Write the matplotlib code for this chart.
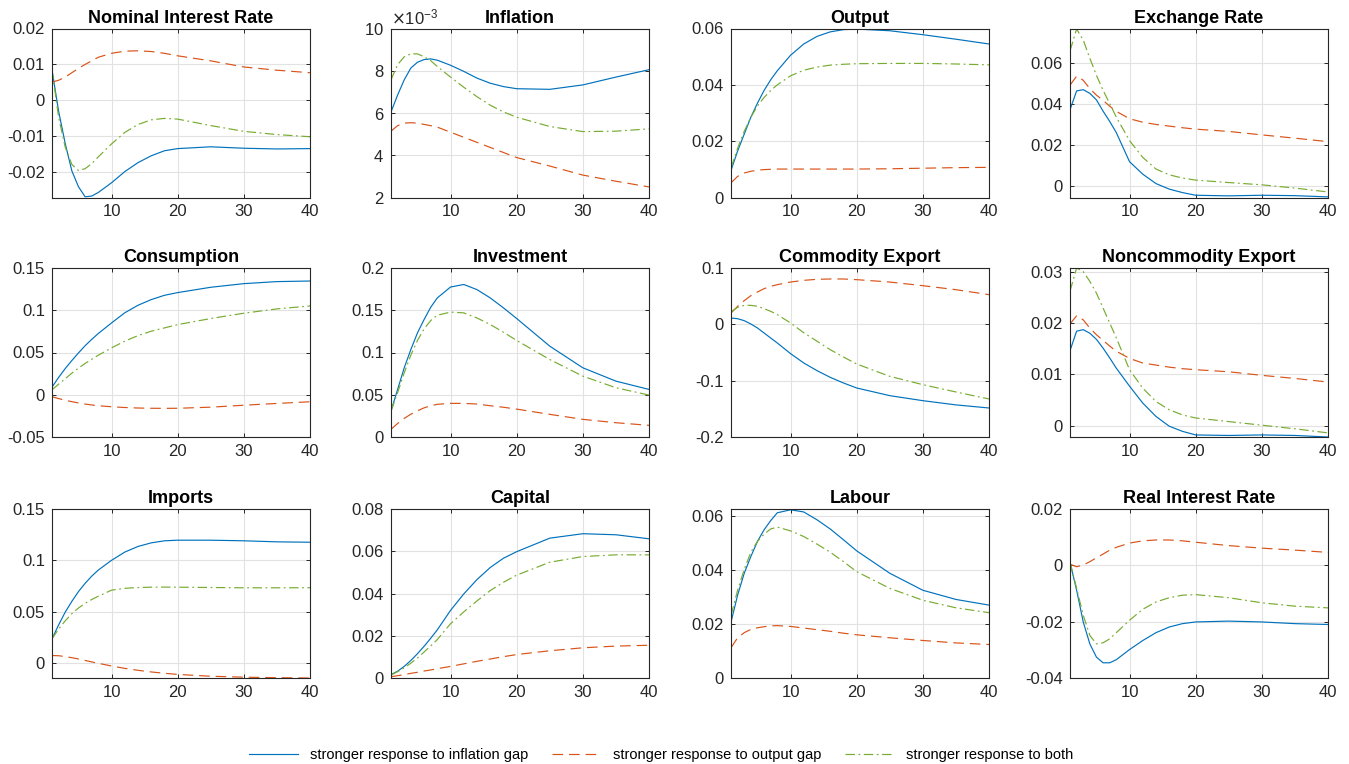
# librerias
import numpy as np
import matplotlib.pyplot as plt
from matplotlib.ticker import FuncFormatter, ScalarFormatter

plt.rcParams['font.family'] = ['Liberation Sans', 'DejaVu Sans']
plt.rcParams['axes.unicode_minus'] = False

# Periodos
periodos = [1, 2, 3, 4, 5, 6, 7, 8, 10, 12, 14, 16, 18, 20, 25, 30, 35, 40]

titulos = ['Nominal Interest Rate', 'Inflation', 'Output', 'Exchange Rate',
           'Consumption', 'Investment', 'Commodity Export', 'Noncommodity Export',
           'Imports', 'Capital', 'Labour', 'Real Interest Rate']

etiquetas = ['stronger response to inflation gap',
             'stronger response to output gap',
             'stronger response to both']

# Nominal Interest Rate
nom_infl = [0.0085, -0.003, -0.012, -0.0196, -0.024, -0.0268, -0.0266, -0.0256, -0.0229, -0.0198,
            -0.0173, -0.0154, -0.014, -0.0134, -0.0129, -0.0133, -0.0135, -0.0134]
nom_out = [0.0051, 0.0056, 0.0065, 0.0077, 0.0089, 0.01, 0.011, 0.012, 0.0131, 0.0137,
           0.0138, 0.0136, 0.0131, 0.0124, 0.011, 0.0093, 0.0084, 0.0077]
nom_both = [0.0085, -0.0047, -0.013, -0.0178, -0.0195, -0.019, -0.0176, -0.0157, -0.0121, -0.0089,
            -0.0067, -0.0054, -0.005, -0.0052, -0.007, -0.0086, -0.0095, -0.0101]

# Inflation (en unidades de 1e-3)
inf_infl = [6.05, 6.85, 7.57, 8.13, 8.4, 8.53, 8.56, 8.5, 8.26, 7.97,
            7.65, 7.41, 7.25, 7.15, 7.12, 7.33, 7.7, 8.05]
inf_out = [5.14, 5.4, 5.52, 5.54, 5.52, 5.46, 5.4, 5.33, 5.09, 4.85,
           4.61, 4.37, 4.13, 3.89, 3.49, 3.06, 2.77, 2.5]
inf_both = [7.57, 8.29, 8.66, 8.8, 8.8, 8.66, 8.48, 8.2, 7.7, 7.22,
            6.77, 6.37, 6.05, 5.8, 5.36, 5.12, 5.14, 5.25]

# Output
y_infl = [0.0096, 0.0165, 0.0225, 0.0285, 0.0335, 0.038, 0.0418, 0.045, 0.0505, 0.0545,
          0.0572, 0.0588, 0.0596, 0.0598, 0.0592, 0.0578, 0.0562, 0.0545]
y_out = [0.0052, 0.0075, 0.0087, 0.0093, 0.0097, 0.0099, 0.01, 0.0101, 0.0101, 0.0101,
         0.0101, 0.0101, 0.0101, 0.0101, 0.0102, 0.0104, 0.0106, 0.0107]
y_both = [0.0105, 0.0175, 0.0235, 0.0285, 0.0325, 0.0355, 0.038, 0.04, 0.0432, 0.0452,
          0.0463, 0.047, 0.0473, 0.0475, 0.0476, 0.0476, 0.0474, 0.0471]

# Exchange Rate
tc_infl = [0.0372, 0.0464, 0.047, 0.0452, 0.042, 0.0365, 0.0315, 0.026, 0.0118, 0.0057,
           0.0011, -0.0016, -0.0033, -0.0046, -0.0049, -0.0046, -0.0048, -0.0054]
tc_out = [0.0492, 0.0536, 0.0516, 0.0475, 0.0443, 0.0418, 0.0389, 0.0364, 0.0328, 0.0311,
          0.03, 0.0292, 0.0284, 0.0277, 0.0266, 0.0249, 0.0233, 0.0216]
tc_both = [0.066, 0.0766, 0.0713, 0.0623, 0.054, 0.0467, 0.0402, 0.0336, 0.0221, 0.0139,
           0.0082, 0.0054, 0.0038, 0.0028, 0.0016, 0.0005, -0.0011, -0.003]

# Consumption
c_infl = [0.009, 0.0205, 0.031, 0.0405, 0.0495, 0.058, 0.0655, 0.0725, 0.085, 0.097,
          0.1059, 0.1126, 0.1177, 0.1209, 0.1272, 0.1315, 0.1339, 0.1346]
c_out = [-0.0024, -0.0045, -0.0065, -0.0082, -0.0097, -0.011, -0.0121, -0.013, -0.0142, -0.0151,
         -0.0157, -0.016, -0.0161, -0.016, -0.0147, -0.0124, -0.0103, -0.0083]
c_both = [0.0059, 0.0125, 0.019, 0.0255, 0.0315, 0.037, 0.042, 0.0468, 0.0555, 0.0634,
          0.07, 0.0752, 0.0791, 0.083, 0.0902, 0.0965, 0.1016, 0.1051]

# Investment
i_infl = [0.0307, 0.0563, 0.0819, 0.1035, 0.1232, 0.139, 0.1535, 0.1646, 0.1775, 0.1805,
          0.1744, 0.1646, 0.1528, 0.1402, 0.1075, 0.0819, 0.0661, 0.0563]
i_out = [0.0091, 0.016, 0.022, 0.027, 0.031, 0.0345, 0.037, 0.0387, 0.0398, 0.0398,
         0.039, 0.037, 0.0352, 0.033, 0.0268, 0.0209, 0.0169, 0.0138]
i_both = [0.0307, 0.0524, 0.076, 0.0969, 0.1142, 0.128, 0.1378, 0.1441, 0.1478, 0.1469,
          0.1409, 0.1331, 0.124, 0.1142, 0.0917, 0.072, 0.0583, 0.0496]

# Commodity Export
xc_infl = [0.0112, 0.01, 0.0065, 0.0006, -0.0065, -0.0154, -0.0243, -0.0331, -0.052, -0.0686,
           -0.0822, -0.0941, -0.1041, -0.113, -0.1266, -0.1355, -0.143, -0.1485]
xc_out = [0.0201, 0.032, 0.042, 0.0509, 0.0574, 0.0633, 0.0675, 0.0704, 0.0751, 0.0781,
          0.0799, 0.0805, 0.0805, 0.0793, 0.0751, 0.0686, 0.0615, 0.0527]
xc_both = [0.0219, 0.0302, 0.0337, 0.0337, 0.032, 0.0278, 0.0231, 0.0172, 0.0024, -0.015,
           -0.03, -0.045, -0.058, -0.0704, -0.0923, -0.1071, -0.1201, -0.1325]

# Noncommodity Export
xn_infl = [0.0146, 0.0184, 0.0187, 0.018, 0.0168, 0.0151, 0.0132, 0.0112, 0.0077, 0.0044,
           0.0018, -0.0001, -0.0011, -0.0018, -0.0019, -0.0018, -0.0019, -0.0022]
xn_out = [0.0198, 0.0214, 0.0206, 0.019, 0.0177, 0.0166, 0.0155, 0.0145, 0.0131, 0.0122,
          0.0118, 0.0114, 0.0111, 0.0109, 0.0105, 0.0098, 0.0092, 0.0085]
xn_both = [0.0262, 0.0307, 0.03, 0.0281, 0.0258, 0.0229, 0.02, 0.0171, 0.0109, 0.0073,
           0.0047, 0.0031, 0.0021, 0.0015, 0.0008, 0.0001, -0.0006, -0.0014]

# Imports
m_infl = [0.0235, 0.037, 0.0495, 0.06, 0.0695, 0.0775, 0.0845, 0.0905, 0.1, 0.108,
          0.1135, 0.117, 0.119, 0.1196, 0.1196, 0.119, 0.118, 0.1176]
m_out = [0.0072, 0.007, 0.0062, 0.0051, 0.0038, 0.0024, 0.001, -0.0004, -0.003, -0.0053,
         -0.0072, -0.0088, -0.0101, -0.0112, -0.013, -0.0139, -0.0144, -0.0147]
m_both = [0.0235, 0.033, 0.041, 0.048, 0.0535, 0.058, 0.0618, 0.065, 0.0709, 0.0727,
          0.0735, 0.0738, 0.0739, 0.0738, 0.0735, 0.0732, 0.0732, 0.0733]

# Capital
k_infl = [0.0016, 0.0032, 0.0055, 0.0083, 0.0115, 0.015, 0.0188, 0.0228, 0.032, 0.0398,
          0.0466, 0.0523, 0.0567, 0.0598, 0.0662, 0.0683, 0.0678, 0.0659]
k_out = [0.0006, 0.0011, 0.0016, 0.0022, 0.0027, 0.0033, 0.0038, 0.0044, 0.0055, 0.0067,
         0.0079, 0.009, 0.0101, 0.0111, 0.0129, 0.0143, 0.0151, 0.0155]
k_both = [0.0014, 0.003, 0.0048, 0.007, 0.0095, 0.0123, 0.0152, 0.0182, 0.0257, 0.0313,
          0.0365, 0.0414, 0.0453, 0.0487, 0.0548, 0.0575, 0.0583, 0.0583]

# Labour
l_infl = [0.0207, 0.0307, 0.0388, 0.045, 0.0506, 0.0549, 0.0583, 0.0612, 0.0623, 0.0615,
          0.0586, 0.0552, 0.0512, 0.0471, 0.0388, 0.0325, 0.0291, 0.027]
l_out = [0.0112, 0.0149, 0.0168, 0.018, 0.0186, 0.019, 0.0193, 0.0194, 0.0191, 0.0185,
         0.0179, 0.0173, 0.0166, 0.016, 0.0149, 0.0139, 0.013, 0.0124]
l_both = [0.0232, 0.0325, 0.0402, 0.0466, 0.0506, 0.0533, 0.0552, 0.0559, 0.0545, 0.0524,
          0.0496, 0.0466, 0.0431, 0.0394, 0.0332, 0.0288, 0.026, 0.0242]

# Real Interest Rate
r_infl = [0.0011, -0.0088, -0.0201, -0.0279, -0.0326, -0.0346, -0.0346, -0.0335, -0.0299, -0.0267,
          -0.0239, -0.0219, -0.0207, -0.0201, -0.0198, -0.0201, -0.0207, -0.021]
r_out = [0.0004, -0.0005, 0.0001, 0.0013, 0.0027, 0.004, 0.0054, 0.0064, 0.0079, 0.0087,
         0.009, 0.009, 0.0087, 0.0082, 0.007, 0.0061, 0.0054, 0.0046]
r_both = [0.0011, -0.0082, -0.0177, -0.0249, -0.0279, -0.0275, -0.0261, -0.0239, -0.0195, -0.0156,
          -0.013, -0.0115, -0.0106, -0.0104, -0.0115, -0.0133, -0.0145, -0.0151]

series = [
    (nom_infl, nom_out, nom_both),
    (np.array(inf_infl) * 1e-3, np.array(inf_out) * 1e-3, np.array(inf_both) * 1e-3),
    (y_infl, y_out, y_both),
    (tc_infl, tc_out, tc_both),
    (c_infl, c_out, c_both),
    (i_infl, i_out, i_both),
    (xc_infl, xc_out, xc_both),
    (xn_infl, xn_out, xn_both),
    (m_infl, m_out, m_both),
    (k_infl, k_out, k_both),
    (l_infl, l_out, l_both),
    (r_infl, r_out, r_both),
]

limites_y = [(-0.027, 0.02), (0.002, 0.010), (0, 0.06), (-0.0057, 0.0769),
             (-0.05, 0.15), (0, 0.2), (-0.2, 0.1), (-0.0022, 0.0307),
             (-0.0147, 0.15), (0, 0.08), (0, 0.0626), (-0.04, 0.02)]

ticks_y = [[-0.02, -0.01, 0, 0.01, 0.02],
           [0.002, 0.004, 0.006, 0.008, 0.010],
           [0, 0.02, 0.04, 0.06],
           [0, 0.02, 0.04, 0.06],
           [-0.05, 0, 0.05, 0.1, 0.15],
           [0, 0.05, 0.1, 0.15, 0.2],
           [-0.2, -0.1, 0, 0.1],
           [0, 0.01, 0.02, 0.03],
           [0, 0.05, 0.1, 0.15],
           [0, 0.02, 0.04, 0.06, 0.08],
           [0, 0.02, 0.04, 0.06],
           [-0.04, -0.02, 0, 0.02]]

colores = ['#0072BD', '#D95319', '#77AC30']
estilos = ['-', (0, (9, 5)), (0, (8, 3, 1.5, 3))]

# Figura
W, H = 1349, 764
fig = plt.figure(figsize=(W / 100, H / 100), dpi=100)
izq = [52, 391, 731, 1070]
arriba = [28.5, 268, 509]
ancho, alto = 258, 169

for i in range(12):
    fila, col = divmod(i, 4)
    ax = fig.add_axes([izq[col] / W, 1 - (arriba[fila] + alto) / H, ancho / W, alto / H])
    for serie, color, estilo, etiqueta in zip(series[i], colores, estilos, etiquetas):
        ax.plot(periodos, serie, color=color, ls=estilo, lw=0.85, label=etiqueta)
    ax.set_xlim(1, 40)
    ax.set_ylim(*limites_y[i])
    ax.set_xticks([10, 20, 30, 40])
    ax.set_yticks(ticks_y[i])
    if i == 1:
        fmt = ScalarFormatter(useMathText=True)
        fmt.set_powerlimits((-3, -3))
        ax.yaxis.set_major_formatter(fmt)
        ax.yaxis.get_offset_text().set_fontsize(12)
        ax.yaxis.get_offset_text().set_color('#262626')
    else:
        ax.yaxis.set_major_formatter(FuncFormatter(lambda v, p: '%g' % v))
    ax.grid(True, color='#e2e2e2', lw=0.8)
    ax.set_axisbelow(True)
    ax.tick_params(direction='in', length=3, width=0.7, labelsize=12, pad=5,
                   colors='#262626', top=True, right=True)
    for s in ax.spines.values():
        s.set_color('#262626')
        s.set_linewidth(0.8)
    ax.set_title(titulos[i], fontsize=13, fontweight='bold', pad=4)

handles, labels = ax.get_legend_handles_labels()
fig.legend(handles, labels, loc='lower center', bbox_to_anchor=(0.49, -0.015), ncol=3,
           frameon=False, fontsize=10.5, handlelength=3.4, columnspacing=1.6)

fig.savefig('out.png', dpi=100)
